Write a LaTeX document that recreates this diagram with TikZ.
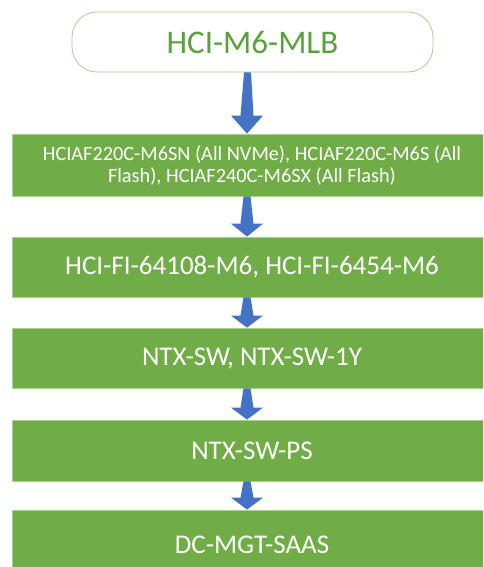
\documentclass[tikz,border=0pt]{standalone}
\usepackage{fontspec}
\setmainfont{Carlito}
\definecolor{boxgreen}{RGB}{112,173,71}
\definecolor{edgegreen}{RGB}{169,209,142}
\definecolor{textgreen}{RGB}{92,160,62}
\definecolor{flowblue}{RGB}{68,114,196}
% tapered block arrow: from node, to node, head length
\newcommand{\flowarrow}[3]{%
  \fill[flowblue] ([xshift=-8.5pt]#1.south) -- ([xshift=-11.5pt,yshift=#3]#2.north)
    -- ([xshift=-21pt,yshift=#3]#2.north) -- ([xshift=-5pt]#2.north)
    -- ([xshift=11pt,yshift=#3]#2.north) -- ([xshift=1.5pt,yshift=#3]#2.north)
    -- ([xshift=-1.5pt]#1.south) -- cycle;}

\begin{document}
\begin{tikzpicture}[x=1pt,y=1pt,
  startbox/.style={draw=edgegreen, line width=0.8pt, fill=white, rounded corners=25pt,
    minimum width=361pt, minimum height=60pt, text=textgreen, font=\fontsize{33}{40}\selectfont},
  stagebox/.style={draw=edgegreen, line width=0.8pt, fill=boxgreen, minimum width=480pt,
    text=white, font=\fontsize{27}{32}\selectfont}]
\clip (0,0) rectangle (483,-567);
\fill[white] (0,0) rectangle (483,-567);
\node[startbox] (mlb) at (252.5,-42) {HCI-M6-MLB};
\node[stagebox, minimum height=62pt, align=center, font=\fontsize{20.3}{22}\selectfont] (nodes) at (252,-165)
  {HCIAF220C-M6SN (All NVMe), HCIAF220C-M6S (All\\Flash), HCIAF240C-M6SX (All Flash)};
\node[stagebox, minimum height=60pt] (fi) at (252,-267) {HCI-FI-64108-M6, HCI-FI-6454-M6};
\node[stagebox, minimum height=60pt] (sw) at (252,-358) {NTX-SW, NTX-SW-1Y};
\node[stagebox, minimum height=61pt] (ps) at (252,-450.5) {NTX-SW-PS};
\node[stagebox, minimum height=70pt] (saas) at (252,-545) {DC-MGT-SAAS};
% arrows down the chain
\flowarrow{mlb}{nodes}{18pt}
\flowarrow{nodes}{fi}{13pt}
\flowarrow{fi}{sw}{12pt}
\flowarrow{sw}{ps}{12pt}
\flowarrow{ps}{saas}{12pt}
\end{tikzpicture}
\end{document}
